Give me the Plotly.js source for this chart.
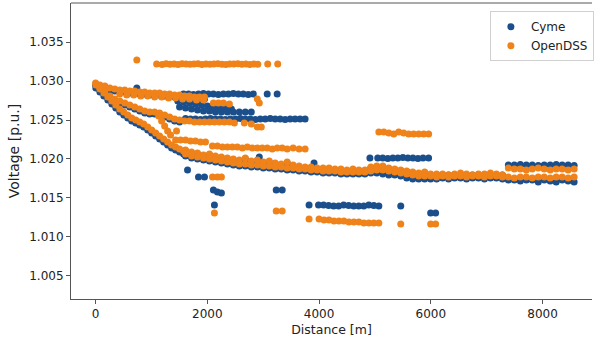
<!DOCTYPE html>
<html><head><meta charset="utf-8">
<script src="https://cdn.plot.ly/plotly-3.0.1.min.js"></script>
<style>html,body{margin:0;padding:0;background:#fff;}#chart{width:594px;height:341px;}</style>
</head><body><div id="chart"></div>
<script>
// ---------- Data (distance in m, voltage in p.u.) ----------
// Fan region near the substation
const fanTopDist = [0,77,166,255,344,433,522,612,701,790,879,968,1057,1146,1236,1325,1414,1503,1592,1681,1770,1860,1949];
const dssFanTop  = [1.02974,1.02949,1.02936,1.0291,1.02897,1.02885,1.02885,1.02872,1.02872,1.02859,1.02859,1.02846,1.02846,1.02846,1.02833,1.02833,1.02821,1.02821,1.02808,1.02808,1.02795,1.02795,1.02795];
const cymeFanTop = [1.02949,1.02923,1.0291,1.02885,1.02872,1.02859,1.02859,1.02846,1.02846,1.02833,1.02833,1.02821,1.02821,1.02821,1.02808,1.02808,1.02795,1.02795,1.02782,1.02782,1.02769,1.02769,1.02769];

const dssFanTop2Dist = [433,558,683,808,932,1057,1182,1307,1432,1557,1681,1806,1931];
const dssFanTop2     = [1.02833,1.02821,1.02821,1.02808,1.02808,1.02795,1.02795,1.02782,1.02782,1.02769,1.02769,1.02756,1.02756];

const fanMidDist = [77,166,255,344,433,522,612,701,790,879,968,1057,1146,1236,1325,1414,1503,1592,1681,1770,1860,1949,2038,2127,2216,2305,2395,2484,2662,2787,2894,2966];
const dssFanMid  = [1.0291,1.02859,1.02808,1.02769,1.02744,1.02718,1.02692,1.02667,1.02641,1.02615,1.02603,1.02603,1.0259,1.02564,1.02538,1.02513,1.025,1.02487,1.02487,1.02474,1.02474,1.02474,1.02474,1.02474,1.02474,1.02474,1.02474,1.02462,1.02462,1.02449,1.0241,1.0241];
const cymeFanMidDist = [77,166,255,344,433,522,612,701,790,879,968,1057,1146,1236,1325,1414,1503];
const cymeFanMid     = [1.02885,1.02833,1.02782,1.02744,1.02718,1.02692,1.02667,1.02641,1.02615,1.0259,1.02577,1.02577,1.02564,1.02538,1.02513,1.02487,1.02474];

const fanLowDist = [5,77,148,219,291,362,433,505,576,647,719,790,861,933,1004,1075,1146,1218,1289,1360,1432,1503,1574];
const dssFanLow  = [1.02949,1.02897,1.02846,1.02795,1.02744,1.02692,1.02641,1.02603,1.02564,1.02526,1.025,1.02474,1.02449,1.0241,1.02372,1.02333,1.02295,1.02256,1.02218,1.02179,1.02154,1.02128,1.02103];
const cymeFanLow = [1.0291,1.02859,1.02808,1.02756,1.02705,1.02654,1.02603,1.02564,1.02526,1.02487,1.02462,1.02436,1.0241,1.02372,1.02333,1.02295,1.02256,1.02218,1.02179,1.02141,1.02115,1.0209,1.02064];

const dssConnDist = [1129,1182,1236,1289,1342];
const dssConn     = [1.02551,1.02487,1.02423,1.02359,1.02308];

// Main feeder band
const bandDist = [1610,1717,1824,1931,2038,2145,2252,2359,2466,2573,2680,2787,2894,3001,3108,3215,3322,3429,3536,3643,3750,3857,3964,4071,4178,4285,4392,4499,4606,4713,4820,4927,5034,5141,5248,5355,5462,5569,5676,5783,5890,5997,6104,6211,6318,6425,6532,6639,6746,6853,6960,7067,7174,7281,7388,7495,7602,7709,7816,7923,8030,8137,8244,8351,8458,8565];
const dssBandA = [1.02115,1.0209,1.02077,1.02051,1.02064,1.02038,1.02026,1.02013,1.0200,1.01987,
  1.02013,1.01974,1.01987,1.01962,1.01974,1.01949,1.01936,1.01962,1.01923,1.0191,
  1.01897,1.01897,1.01885,1.01885,1.01885,1.01872,1.01872,1.01859,1.01872,1.01859,
  1.01859,1.01897,1.0191,1.0191,1.01885,1.01872,1.01859,1.01846,1.01833,1.0182,
  1.01833,1.01808,1.01808,
  1.01808,1.01795,1.01808,1.0182,1.01808,1.01795,1.01808,1.01808,1.0182,1.01808,1.01795,
  1.01885,1.01872,1.01872,1.01859,1.01872,1.01885,1.01872,1.01859,1.01872,1.01872,1.01859,1.01872];
const dssBandB = [1.02064,1.02038,1.02026,1.02013,1.0200,1.01987,1.01974,1.01962,1.01949,1.01936,
  1.01936,1.01923,1.01923,1.0191,1.0191,1.01897,1.01897,1.01885,1.01885,1.01872,
  1.01872,1.01859,1.01859,1.01846,1.01846,1.01846,1.01833,1.01833,1.01833,1.01833,
  1.01833,1.01846,1.01859,1.01859,1.01846,1.01833,1.0182,1.01808,1.01795,1.01782,
  1.01782,1.01782,1.01769,
  1.01782,1.01769,1.01782,1.01782,1.01769,1.01782,1.01782,1.01769,1.01782,1.01782,1.01769,
  1.01769,1.01756,1.01769,1.01769,1.01756,1.01769,1.01769,1.01756,1.01769,1.01769,1.01756,1.01769];
const cymeBandA = [1.02103,1.02077,1.02064,1.02038,1.02051,1.02026,1.02013,1.0200,1.01987,1.01974,
  1.0200,1.01962,1.01974,1.01949,1.01962,1.01936,1.01923,1.01949,1.0191,1.01897,
  1.01885,1.01885,1.01872,1.01872,1.01872,1.01859,1.01859,1.01846,1.01859,1.01846,
  1.01846,1.01885,1.01897,1.01897,1.01872,1.01859,1.01846,1.01833,1.0182,1.01808,
  1.0182,1.01795,1.01795,
  1.01795,1.01795,1.01795,1.01795,1.01795,1.01795,1.01795,1.01795,1.01795,1.01795,1.01795,
  1.01923,1.01923,1.0193,1.01923,1.01923,1.01917,1.01923,1.01923,1.0193,1.01923,1.01923,1.01917];
const cymeBandB = [1.02038,1.02013,1.0200,1.01987,1.01974,1.01962,1.01949,1.01936,1.01923,1.0191,
  1.0191,1.01897,1.01897,1.01885,1.01885,1.01872,1.01872,1.01859,1.01859,1.01846,
  1.01846,1.01833,1.01833,1.0182,1.0182,1.0182,1.01808,1.01808,1.01808,1.01808,
  1.01808,1.0182,1.0182,1.01808,1.01795,1.01795,1.01782,1.01756,1.01744,1.01744,
  1.01744,1.01744,1.01744,
  1.01756,1.01744,1.01756,1.01756,1.01744,1.01756,1.01756,1.01744,1.01756,1.01756,1.01744,
  1.01731,1.01731,1.01718,1.01731,1.01731,1.01705,1.01731,1.01718,1.01705,1.01731,1.01718,1.01705];

// Laterals (horizontal rows) - OpenDSS
const dssTopRowDist = [738,1093,1190,1262,1333,1405,1476,1547,1619,1690,1761,1833,1904,1975,2047,2118,2189,2261,2332,2403,2475,2546,2617,2689,2760,2831,2903,3081,3260];
const dssTopRow     = [1.03269,1.03218,1.03212,1.03222,1.03215,1.03218,1.03212,1.03222,1.03218,1.03215,1.03218,1.0322,1.03212,1.03218,1.03215,1.03218,1.03222,1.03215,1.03212,1.03218,1.03218,1.0322,1.03215,1.03218,1.03212,1.03218,1.03215,1.03218,1.03218];
const dssTopExtraDist = [2109,2199,2288,2395,2894,2930];
const dssTopExtra     = [1.02718,1.02718,1.02718,1.02705,1.02769,1.02718];
const dssRow140Dist = [1432,1521,1610,1699,1788,1878,1967];
const dssRow140     = [1.02244,1.02244,1.02244,1.02231,1.02231,1.02218,1.02218];
const dssRow147Dist = [2092,2181,2270,2359,2448,2537,2627,2716,2805,2894,2983,3072,3162,3251,3340,3429,3536,3643,3750];
const dssRow147     = [1.02167,1.02167,1.02154,1.02154,1.02154,1.02154,1.02141,1.02154,1.02141,1.02141,1.02141,1.02141,1.02128,1.02141,1.02141,1.02128,1.02141,1.02128,1.02128];
const dssRow132Dist = [5070,5159,5248,5337,5426,5515,5605,5694,5783,5872,5961];
const dssRow132     = [1.02346,1.02346,1.02333,1.0232,1.02346,1.02333,1.0232,1.0232,1.0232,1.0232,1.0232];
const dssRow220Dist = [3821,4000,4089,4178,4267,4356,4445,4535,4624,4713,4802,4891,4980,5070];
const dssRow220     = [1.01231,1.01231,1.01218,1.01218,1.01205,1.01205,1.01205,1.01192,1.01192,1.01192,1.0118,1.0118,1.0118,1.0118];
const dssScatterDist = [1449,2092,2181,2252,2127,3233,3340,5462,5997,6086];
const dssScatter     = [1.02359,1.01769,1.01769,1.01769,1.01308,1.01333,1.01333,1.01167,1.01167,1.01167];

// Laterals (horizontal rows) - Cyme
const cymeRow94Dist = [1574,1663,1752,1842,1931,2020,2109,2198,2288,2377,2466,2555,2644,2733,2822,3072,3250];
const cymeRow94     = [1.02833,1.02833,1.02827,1.02833,1.0284,1.02833,1.02833,1.02827,1.02833,1.02833,1.0284,1.02833,1.02833,1.02827,1.02833,1.02833,1.02833];
const cymeBlockUpDist = [1471,1574,1681,1788,1895,2002,2109,2216,2323,2430];
const cymeBlockUp     = [1.02744,1.02731,1.02718,1.02705,1.02692,1.02679,1.02667,1.02654,1.02654,1.02641];
const cymeBlockLoDist = [1503,1610,1717,1824,1931,2038,2145,2252,2359,2466,2573,2680,2787];
const cymeBlockLo     = [1.02667,1.02654,1.02641,1.02628,1.02615,1.02615,1.02603,1.02603,1.02603,1.02603,1.02603,1.02603,1.02603];
const cymeRow119Dist = [1610,1699,1788,1878,1967,2056,2145,2234,2323,2412,2502,2591,2680,2769,2858,2947,3036,3126,3215,3304,3393,3482,3571,3660,3750];
const cymeRow119     = [1.0252,1.02513,1.02513,1.02507,1.02513,1.0252,1.02513,1.02513,1.02507,1.02513,1.02513,1.0252,1.02513,1.02513,1.02507,1.02513,1.02513,1.0252,1.02513,1.02513,1.02507,1.02513,1.02513,1.02513,1.02513];
const cymeRow158Dist = [4910,5050,5140,5230,5320,5410,5500,5590,5680,5770,5860,5960];
const cymeRow158     = [1.02013,1.02013,1.02013,1.02007,1.02013,1.02013,1.0202,1.02013,1.02013,1.02007,1.02013,1.02013];
const cymeRow205Dist = [3821,3990,4080,4170,4260,4350,4440,4530,4620,4710,4800,4890,4980,5070];
const cymeRow205     = [1.0141,1.0141,1.0141,1.01403,1.01397,1.01397,1.0141,1.01403,1.01397,1.01397,1.01397,1.0141,1.01403,1.01397];
const cymeScatterDist = [738,1646,1842,1949,2109,2181,2252,2127,2930,3233,3340,3910,5462,5997,6086];
const cymeScatter     = [1.0291,1.01859,1.01769,1.01769,1.01603,1.01577,1.01564,1.0141,1.02026,1.01603,1.01603,1.01949,1.01397,1.01308,1.01308];

const seriesNames = ['Cyme','OpenDSS'];
const seriesColors = ['#1b4f8c','#f0821a'];
const xTicks = [0,2000,4000,6000,8000];
const yTicks = [1.005,1.010,1.015,1.020,1.025,1.030,1.035];

// ---------- Assemble ----------
const cymeX = [].concat(fanTopDist, cymeFanMidDist, fanLowDist, bandDist, bandDist,
  cymeRow94Dist, cymeBlockUpDist, cymeBlockLoDist, cymeRow119Dist, cymeRow158Dist, cymeRow205Dist, cymeScatterDist);
const cymeY = [].concat(cymeFanTop, cymeFanMid, cymeFanLow, cymeBandA, cymeBandB,
  cymeRow94, cymeBlockUp, cymeBlockLo, cymeRow119, cymeRow158, cymeRow205, cymeScatter);
const dssX = [].concat(fanTopDist, dssFanTop2Dist, fanMidDist, fanLowDist, dssConnDist, bandDist, bandDist,
  dssTopRowDist, dssTopExtraDist, dssRow140Dist, dssRow147Dist, dssRow132Dist, dssRow220Dist, dssScatterDist);
const dssY = [].concat(dssFanTop, dssFanTop2, dssFanMid, dssFanLow, dssConn, dssBandA, dssBandB,
  dssTopRow, dssTopExtra, dssRow140, dssRow147, dssRow132, dssRow220, dssScatter);

const traces = [
  {x: cymeX, y: cymeY, name: seriesNames[0], type: 'scatter', mode: 'markers',
   marker: {color: seriesColors[0], size: 7, line: {width: 0}}},
  {x: dssX, y: dssY, name: seriesNames[1], type: 'scatter', mode: 'markers',
   marker: {color: seriesColors[1], size: 7, line: {width: 0}}}
];

const axisFont = {family: 'DejaVu Sans, sans-serif', size: 12, color: '#222'};
const layout = {
  width: 594, height: 341,
  margin: {l: 71, r: 0, t: 3, b: 42, pad: 0},
  paper_bgcolor: '#fff', plot_bgcolor: '#fff',
  font: axisFont,
  showlegend: true,
  legend: {x: 0.804, y: 0.972, xanchor: 'left', yanchor: 'top', bgcolor: '#fff',
           bordercolor: '#d0d0d0', borderwidth: 1, font: {family: 'DejaVu Sans, sans-serif', size: 12, color: '#222'},
           tracegroupgap: 0, itemwidth: 30},
  xaxis: {range: [-440, 8885], tickvals: xTicks, ticktext: xTicks.map(String),
          showgrid: false, zeroline: false, showline: true, linecolor: '#555', linewidth: 1,
          ticks: 'outside', ticklen: 4, tickcolor: '#555', tickfont: axisFont,
          title: {text: 'Distance [m]', font: {family: 'DejaVu Sans, sans-serif', size: 12.5, color: '#222'}, standoff: 4},
          automargin: false},
  yaxis: {range: [1.00205, 1.0400], tickvals: yTicks, ticktext: yTicks.map(v => v.toFixed(3)),
          showgrid: false, zeroline: false, showline: true, linecolor: '#555', linewidth: 1,
          ticks: 'outside', ticklen: 4, tickcolor: '#555', tickfont: axisFont,
          title: {text: 'Voltage [p.u.]', font: {family: 'DejaVu Sans, sans-serif', size: 14, color: '#222'}, standoff: 6},
          automargin: false},
  shapes: [{type: 'line', xref: 'paper', yref: 'paper', x0: 0, x1: 1, y0: 1, y1: 1,
            line: {color: '#555', width: 1}}]
};

Plotly.newPlot('chart', traces, layout, {displayModeBar: false, staticPlot: true});
</script></body></html>
